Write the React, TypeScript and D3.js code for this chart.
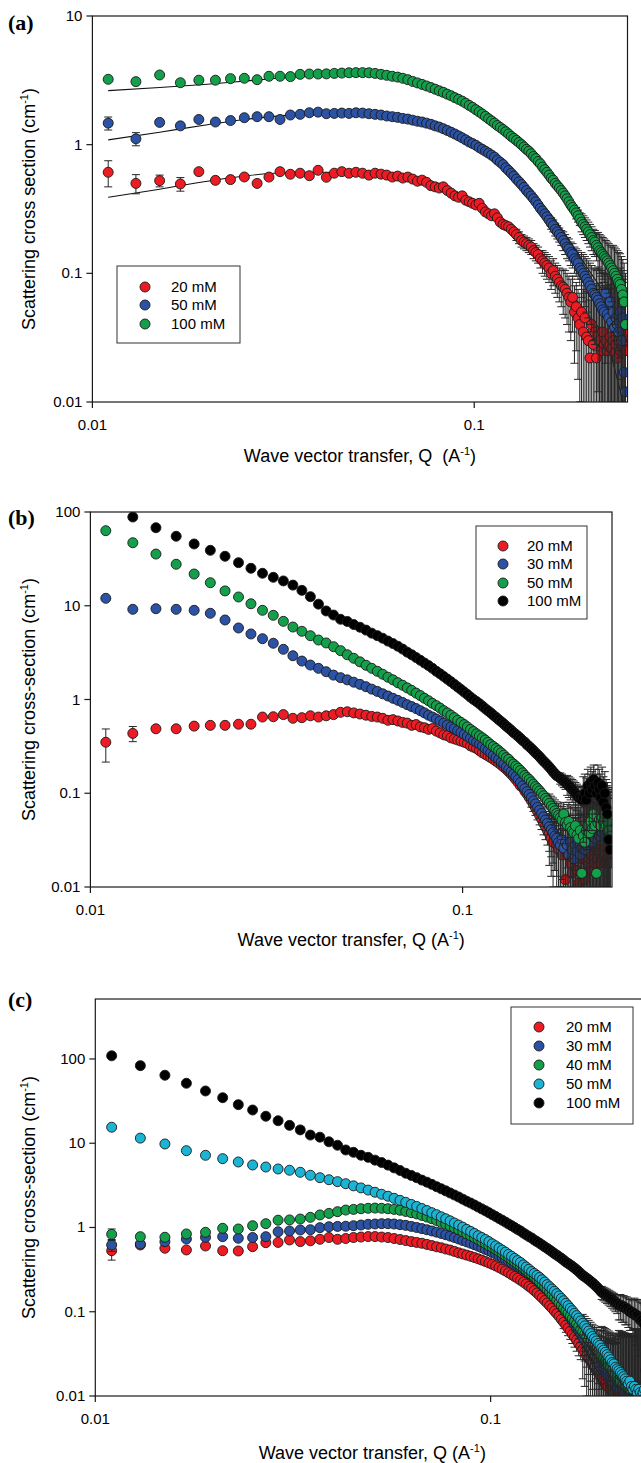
import React from "react";
import * as d3 from "d3";

// ---------- shared Q grid (Å^-1) ----------
const Q = [
  0.011, 0.013, 0.015, 0.017, 0.019, 0.021, 0.023, 0.025, 0.027, 0.029,
  0.031, 0.033, 0.035, 0.037, 0.039, 0.041, 0.043, 0.045, 0.047, 0.049,
  0.051, 0.053, 0.055, 0.057, 0.059, 0.061, 0.063, 0.065, 0.067, 0.069,
  0.071, 0.073, 0.075, 0.077, 0.079, 0.081, 0.083, 0.085, 0.087, 0.089,
  0.091, 0.093, 0.095, 0.097, 0.099, 0.101, 0.103, 0.105, 0.107, 0.109,
  0.111, 0.113, 0.115, 0.117, 0.119, 0.121, 0.123, 0.125, 0.127, 0.129,
  0.131, 0.133, 0.135, 0.137, 0.139, 0.141, 0.143, 0.145, 0.147, 0.149,
  0.151, 0.153, 0.155, 0.157, 0.159, 0.161, 0.163, 0.165, 0.167, 0.169,
  0.171, 0.173, 0.175, 0.177, 0.179, 0.181, 0.183, 0.185, 0.187, 0.189,
  0.191, 0.193, 0.195, 0.197, 0.199, 0.201, 0.203, 0.205, 0.207, 0.209,
  0.211, 0.213, 0.215, 0.217, 0.219, 0.221, 0.223, 0.225, 0.227, 0.229,
  0.231, 0.233, 0.235, 0.237, 0.239, 0.241, 0.243, 0.245, 0.247, 0.249,
];

// ---------- panel (a) ----------
const A_20 = [
  0.61, 0.50, 0.525, 0.495, 0.617, 0.528, 0.535, 0.561, 0.50, 0.56,
  0.617, 0.589, 0.60, 0.574, 0.632, 0.558, 0.60, 0.617, 0.60, 0.61,
  0.60, 0.58, 0.60, 0.59, 0.58, 0.56, 0.57, 0.55, 0.56, 0.54,
  0.52, 0.53, 0.51, 0.48, 0.47, 0.46, 0.47, 0.44, 0.42, 0.40,
  0.39, 0.40, 0.37, 0.36, 0.35, 0.34, 0.35, 0.32, 0.30, 0.29,
  0.28, 0.29, 0.27, 0.25, 0.24, 0.235, 0.23, 0.22, 0.21, 0.20,
  0.19, 0.18, 0.175, 0.17, 0.165, 0.16, 0.15, 0.145, 0.14, 0.13,
  0.125, 0.12, 0.115, 0.11, 0.10, 0.105, 0.095, 0.09, 0.085, 0.08,
  0.078, 0.075, 0.07, 0.065, 0.06, 0.065, 0.05, 0.055, 0.045, 0.04,
  0.05, 0.035, 0.045, 0.032, 0.03, 0.022, 0.04, 0.028, 0.035, 0.022,
  0.033, 0.03, 0.025, 0.035, 0.028, 0.03, 0.025, 0.027, 0.032, 0.026,
  0.03, 0.024, 0.028, 0.022, 0.03, 0.025, 0.027, 0.035, 0.03, 0.025,
];
const A_50 = [
  1.47, 1.11, 1.49, 1.40, 1.57, 1.50, 1.54, 1.62, 1.65, 1.65,
  1.57, 1.70, 1.72, 1.77, 1.79, 1.74, 1.75, 1.76, 1.75, 1.77,
  1.76, 1.74, 1.72, 1.70, 1.67, 1.65, 1.63, 1.60, 1.58, 1.55,
  1.52, 1.50, 1.47, 1.44, 1.40, 1.37, 1.33, 1.29, 1.25, 1.21,
  1.17, 1.13, 1.09, 1.05, 1.02, 0.99, 0.95, 0.92, 0.89, 0.86,
  0.83, 0.80, 0.76, 0.73, 0.70, 0.66, 0.63, 0.60, 0.57, 0.54,
  0.515, 0.49, 0.465, 0.44, 0.42, 0.40, 0.38, 0.36, 0.34, 0.32,
  0.305, 0.29, 0.275, 0.26, 0.245, 0.235, 0.22, 0.21, 0.20, 0.19,
  0.18, 0.17, 0.16, 0.155, 0.145, 0.14, 0.13, 0.125, 0.12, 0.11,
  0.105, 0.10, 0.095, 0.09, 0.085, 0.08, 0.075, 0.07, 0.068, 0.065,
  0.062, 0.058, 0.055, 0.052, 0.05, 0.07, 0.048, 0.045, 0.06, 0.042,
  0.05, 0.038, 0.045, 0.04, 0.035, 0.05, 0.03, 0.045, 0.017, 0.012,
];
const A_100 = [
  3.22, 3.09, 3.48, 3.03, 3.17, 3.17, 3.26, 3.28, 3.20, 3.40,
  3.40, 3.38, 3.52, 3.54, 3.54, 3.55, 3.58, 3.60, 3.62, 3.63,
  3.63, 3.62, 3.58, 3.52, 3.46, 3.40, 3.35, 3.28, 3.20, 3.10,
  3.02, 2.94, 2.86, 2.78, 2.70, 2.62, 2.55, 2.47, 2.40, 2.32,
  2.25, 2.18, 2.10, 2.02, 1.95, 1.87, 1.80, 1.73, 1.66, 1.59,
  1.53, 1.47, 1.41, 1.36, 1.31, 1.26, 1.21, 1.16, 1.12, 1.08,
  1.04, 1.00, 0.96, 0.92, 0.89, 0.85, 0.81, 0.78, 0.74, 0.71,
  0.67, 0.64, 0.61, 0.58, 0.55, 0.53, 0.50, 0.48, 0.46, 0.44,
  0.42, 0.40, 0.38, 0.36, 0.34, 0.325, 0.31, 0.295, 0.28, 0.265,
  0.25, 0.24, 0.23, 0.22, 0.21, 0.20, 0.19, 0.18, 0.175, 0.165,
  0.158, 0.15, 0.145, 0.14, 0.135, 0.13, 0.125, 0.12, 0.115, 0.11,
  0.105, 0.10, 0.095, 0.09, 0.085, 0.082, 0.075, 0.068, 0.06, 0.04,
];
const A_ERR = [
  0.01, 0.01, 0.01, 0.01, 0.01, 0.01, 0.01, 0.01, 0.01, 0.01,
  0.01, 0.01, 0.01, 0.01, 0.01, 0.01, 0.01, 0.01, 0.01, 0.01,
  0.01, 0.01, 0.01, 0.01, 0.01, 0.01, 0.01, 0.01, 0.01, 0.01,
  0.01, 0.01, 0.01, 0.01, 0.01, 0.01, 0.01, 0.01, 0.01, 0.01,
  0.015, 0.015, 0.015, 0.015, 0.015, 0.015, 0.015, 0.015, 0.015, 0.015,
  0.02, 0.02, 0.02, 0.02, 0.02, 0.02, 0.02, 0.02, 0.02, 0.02,
  0.02, 0.02, 0.02, 0.02, 0.02, 0.02, 0.02, 0.02, 0.02, 0.02,
  0.025, 0.025, 0.025, 0.025, 0.025, 0.025, 0.025, 0.025, 0.025, 0.025,
  0.03, 0.03, 0.03, 0.03, 0.03, 0.03, 0.03, 0.03, 0.03, 0.03,
  0.04, 0.04, 0.04, 0.04, 0.04, 0.04, 0.04, 0.04, 0.04, 0.04,
  0.05, 0.05, 0.05, 0.05, 0.05, 0.05, 0.05, 0.05, 0.05, 0.05,
  0.06, 0.06, 0.06, 0.06, 0.06, 0.06, 0.06, 0.06, 0.06, 0.06,
];
const A_LOWERR_20 = [0.14, 0.085, 0.055, 0.06, 0.06];
const A_LOWERR_50 = [0.17, 0.13, 0.1, 0.09, 0.09];
const A_LOWERR_100 = [0.2, 0.15, 0.12];

const FIT_Q = [0.011, 0.015, 0.02, 0.025, 0.03, 0.04, 0.05, 0.06, 0.07, 0.08, 0.09, 0.1, 0.12, 0.14, 0.16, 0.18, 0.2, 0.22, 0.24, 0.25];
const FIT_20 = [0.39, 0.45, 0.52, 0.57, 0.60, 0.61, 0.60, 0.57, 0.53, 0.48, 0.42, 0.36, 0.245, 0.16, 0.105, 0.07, 0.045, 0.032, 0.013, 0.008];
const FIT_50 = [1.09, 1.25, 1.43, 1.57, 1.66, 1.76, 1.77, 1.68, 1.53, 1.38, 1.2, 1.02, 0.70, 0.44, 0.28, 0.17, 0.105, 0.068, 0.04, 0.025];
const FIT_100 = [2.63, 2.78, 2.95, 3.12, 3.27, 3.45, 3.6, 3.45, 3.07, 2.66, 2.29, 1.92, 1.29, 0.86, 0.55, 0.36, 0.21, 0.13, 0.08, 0.06];

// ---------- panel (b) ----------
const B_20 = [
  0.35, 0.435, 0.487, 0.487, 0.52, 0.53, 0.53, 0.545, 0.545, 0.65,
  0.655, 0.69, 0.63, 0.64, 0.67, 0.65, 0.67, 0.69, 0.73, 0.74,
  0.72, 0.70, 0.68, 0.66, 0.65, 0.63, 0.60, 0.61, 0.59, 0.57,
  0.56, 0.53, 0.54, 0.51, 0.50, 0.48, 0.49, 0.46, 0.44, 0.42,
  0.41, 0.39, 0.38, 0.37, 0.36, 0.35, 0.34, 0.32, 0.31, 0.30,
  0.285, 0.27, 0.26, 0.25, 0.24, 0.23, 0.22, 0.21, 0.20, 0.19,
  0.18, 0.17, 0.16, 0.15, 0.14, 0.13, 0.12, 0.115, 0.105, 0.098,
  0.09, 0.083, 0.076, 0.07, 0.064, 0.058, 0.053, 0.048, 0.044, 0.04,
  0.037, 0.033, 0.03, 0.035, 0.028, 0.025, 0.03, 0.022, 0.026, 0.012,
  0.022, 0.028, 0.018, 0.014, 0.02, 0.025, 0.015, 0.011, 0.03, 0.02,
  0.014, 0.012, 0.025, 0.018, 0.02, 0.022, 0.015, 0.02, 0.018, 0.025,
  0.02, 0.025, 0.018, 0.02, 0.025, 0.022, 0.018, 0.02, 0.018, 0.018,
];
const B_30 = [
  12.0, 9.16, 9.30, 9.16, 8.94, 8.31, 7.05, 5.79, 5.0, 4.45,
  3.98, 3.43, 2.93, 2.57, 2.33, 2.15, 1.98, 1.82, 1.71, 1.62,
  1.53, 1.45, 1.37, 1.29, 1.22, 1.15, 1.09, 1.03, 0.98, 0.93,
  0.88, 0.84, 0.80, 0.76, 0.72, 0.68, 0.65, 0.62, 0.59, 0.56,
  0.535, 0.51, 0.49, 0.465, 0.445, 0.425, 0.405, 0.385, 0.365, 0.35,
  0.335, 0.32, 0.30, 0.285, 0.27, 0.255, 0.24, 0.23, 0.215, 0.205,
  0.19, 0.18, 0.17, 0.16, 0.15, 0.14, 0.13, 0.12, 0.112, 0.104,
  0.097, 0.09, 0.083, 0.077, 0.071, 0.066, 0.061, 0.056, 0.052, 0.048,
  0.044, 0.041, 0.038, 0.035, 0.033, 0.03, 0.028, 0.032, 0.026, 0.03,
  0.028, 0.022, 0.03, 0.025, 0.02, 0.028, 0.024, 0.03, 0.022, 0.026,
  0.03, 0.025, 0.028, 0.032, 0.03, 0.035, 0.03, 0.04, 0.033, 0.038,
  0.04, 0.035, 0.042, 0.038, 0.045, 0.04, 0.05, 0.04, 0.045, 0.04,
];
const B_50 = [
  63.2, 47.0, 35.6, 27.7, 21.8, 17.6, 14.4, 12.4, 10.5, 8.94,
  7.91, 6.82, 5.93, 5.34, 4.79, 4.31, 4.01, 3.66, 3.32, 3.0,
  2.75, 2.52, 2.32, 2.15, 2.0, 1.86, 1.73, 1.62, 1.51, 1.42,
  1.33, 1.25, 1.17, 1.10, 1.03, 0.97, 0.91, 0.86, 0.81, 0.76,
  0.72, 0.68, 0.64, 0.60, 0.57, 0.54, 0.51, 0.48, 0.455, 0.43,
  0.41, 0.39, 0.37, 0.35, 0.33, 0.315, 0.30, 0.285, 0.27, 0.255,
  0.24, 0.23, 0.215, 0.205, 0.195, 0.185, 0.175, 0.165, 0.155, 0.147,
  0.14, 0.132, 0.125, 0.118, 0.112, 0.106, 0.10, 0.094, 0.088, 0.083,
  0.078, 0.073, 0.069, 0.065, 0.061, 0.058, 0.055, 0.052, 0.06, 0.049,
  0.046, 0.05, 0.043, 0.04, 0.038, 0.045, 0.036, 0.033, 0.04, 0.014,
  0.035, 0.03, 0.04, 0.045, 0.038, 0.05, 0.042, 0.06, 0.045, 0.014,
  0.048, 0.052, 0.045, 0.055, 0.05, 0.06, 0.045, 0.05, 0.04, 0.035,
];
const B_100 = [
  null, 88.4, 68.0, 55.1, 45.6, 39.0, 33.7, 28.8, 25.1, 22.2,
  20.1, 18.4, 16.6, 14.6, 12.5, 10.4, 8.8, 7.96, 7.17, 6.8,
  6.3, 5.9, 5.5, 5.1, 4.8, 4.5, 4.2, 3.95, 3.7, 3.45,
  3.2, 3.0, 2.8, 2.62, 2.45, 2.3, 2.15, 2.0, 1.88, 1.76,
  1.65, 1.55, 1.45, 1.36, 1.28, 1.2, 1.13, 1.06, 1.0, 0.95,
  0.9, 0.85, 0.8, 0.76, 0.72, 0.68, 0.645, 0.61, 0.58, 0.55,
  0.52, 0.495, 0.47, 0.445, 0.425, 0.405, 0.385, 0.365, 0.35, 0.33,
  0.315, 0.30, 0.285, 0.27, 0.258, 0.245, 0.232, 0.22, 0.21, 0.2,
  0.19, 0.18, 0.17, 0.162, 0.154, 0.15, 0.145, 0.14, 0.135, 0.13,
  0.125, 0.12, 0.115, 0.11, 0.105, 0.1, 0.095, 0.09, 0.088, 0.085,
  0.09, 0.1, 0.085, 0.12, 0.1, 0.13, 0.11, 0.14, 0.12, 0.1,
  0.13, 0.11, 0.09, 0.12, 0.08, 0.1, 0.07, 0.06, 0.032, 0.025,
];
const B_ERR = [
  0.005, 0.005, 0.005, 0.005, 0.005, 0.005, 0.005, 0.005, 0.005, 0.005,
  0.005, 0.005, 0.005, 0.005, 0.005, 0.005, 0.005, 0.005, 0.005, 0.005,
  0.005, 0.005, 0.005, 0.005, 0.005, 0.005, 0.005, 0.005, 0.005, 0.005,
  0.005, 0.005, 0.005, 0.005, 0.005, 0.005, 0.005, 0.005, 0.005, 0.005,
  0.005, 0.005, 0.005, 0.005, 0.005, 0.005, 0.005, 0.005, 0.005, 0.005,
  0.005, 0.005, 0.005, 0.005, 0.005, 0.005, 0.005, 0.005, 0.005, 0.005,
  0.01, 0.01, 0.01, 0.01, 0.01, 0.01, 0.01, 0.01, 0.01, 0.01,
  0.012, 0.012, 0.012, 0.012, 0.012, 0.012, 0.012, 0.012, 0.012, 0.012,
  0.02, 0.02, 0.02, 0.02, 0.02, 0.02, 0.02, 0.02, 0.02, 0.02,
  0.03, 0.03, 0.03, 0.03, 0.03, 0.03, 0.03, 0.03, 0.03, 0.03,
  0.06, 0.06, 0.06, 0.06, 0.06, 0.06, 0.06, 0.06, 0.06, 0.06,
  0.07, 0.07, 0.07, 0.07, 0.07, 0.07, 0.07, 0.07, 0.07, 0.07,
];
const B_LOWERR_20 = [0.135, 0.08, 0.05, 0.04, 0.035];

// ---------- panel (c) ----------
const C_20 = [
  0.53, 0.62, 0.567, 0.541, 0.603, 0.53, 0.526, 0.592, 0.66, 0.665,
  0.711, 0.68, 0.695, 0.724, 0.76, 0.724, 0.74, 0.76, 0.77, 0.78,
  0.78, 0.77, 0.76, 0.74, 0.72, 0.70, 0.68, 0.665, 0.65, 0.63,
  0.61, 0.59, 0.575, 0.555, 0.54, 0.52, 0.50, 0.485, 0.47, 0.455,
  0.44, 0.425, 0.41, 0.395, 0.38, 0.365, 0.35, 0.335, 0.32, 0.305,
  0.29, 0.275, 0.262, 0.25, 0.237, 0.225, 0.213, 0.2, 0.19, 0.178,
  0.167, 0.156, 0.146, 0.136, 0.127, 0.118, 0.11, 0.102, 0.095, 0.088,
  0.081, 0.075, 0.069, 0.064, 0.059, 0.054, 0.05, 0.046, 0.042, 0.039,
  0.036, 0.033, 0.03, 0.028, 0.026, 0.024, 0.022, 0.02, 0.019, 0.018,
  0.016, 0.015, 0.014, 0.013, 0.015, 0.012, 0.014, 0.011, 0.013, 0.012,
  0.011, 0.013, 0.010, 0.012, 0.011, 0.013, 0.010, 0.012, 0.011, 0.010,
  0.012, 0.011, 0.010, 0.012, 0.011, 0.010, 0.011, 0.012, 0.010, 0.011,
];
const C_30 = [
  0.62, 0.637, 0.678, 0.73, 0.765, 0.778, 0.745, 0.76, 0.778, 0.89,
  0.909, 0.934, 0.94, 0.995, 1.02, 1.03, 1.035, 1.05, 1.07, 1.09,
  1.10, 1.11, 1.11, 1.10, 1.08, 1.06, 1.03, 1.0, 0.97, 0.94,
  0.91, 0.88, 0.85, 0.82, 0.79, 0.76, 0.73, 0.70, 0.675, 0.65,
  0.625, 0.60, 0.575, 0.55, 0.53, 0.505, 0.485, 0.46, 0.44, 0.42,
  0.40, 0.38, 0.36, 0.345, 0.328, 0.31, 0.295, 0.28, 0.265, 0.25,
  0.235, 0.22, 0.207, 0.194, 0.182, 0.17, 0.158, 0.147, 0.137, 0.127,
  0.117, 0.108, 0.1, 0.092, 0.085, 0.078, 0.071, 0.065, 0.06, 0.055,
  0.05, 0.046, 0.042, 0.038, 0.035, 0.032, 0.029, 0.027, 0.025, 0.023,
  0.021, 0.02, 0.019, 0.018, 0.017, 0.016, 0.015, 0.016, 0.014, 0.013,
  0.014, 0.012, 0.013, 0.012, 0.011, 0.013, 0.012, 0.011, 0.012, 0.011,
  0.012, 0.011, 0.013, 0.011, 0.012, 0.010, 0.011, 0.012, 0.011, 0.010,
];
const C_40 = [
  0.83, 0.778, 0.766, 0.838, 0.877, 0.978, 0.96, 1.05, 1.11, 1.22,
  1.23, 1.26, 1.32, 1.41, 1.47, 1.54, 1.61, 1.64, 1.67, 1.69,
  1.70, 1.69, 1.67, 1.64, 1.60, 1.55, 1.50, 1.45, 1.39, 1.33,
  1.27, 1.21, 1.15, 1.10, 1.04, 0.99, 0.94, 0.89, 0.84, 0.80,
  0.76, 0.72, 0.68, 0.645, 0.61, 0.58, 0.55, 0.52, 0.49, 0.465,
  0.44, 0.415, 0.39, 0.37, 0.35, 0.33, 0.31, 0.29, 0.275, 0.258,
  0.242, 0.226, 0.211, 0.197, 0.184, 0.171, 0.159, 0.148, 0.138, 0.128,
  0.119, 0.111, 0.103, 0.096, 0.089, 0.083, 0.077, 0.072, 0.067, 0.062,
  0.058, 0.054, 0.05, 0.047, 0.044, 0.041, 0.038, 0.036, 0.034, 0.032,
  0.03, 0.028, 0.026, 0.025, 0.023, 0.022, 0.02, 0.019, 0.018, 0.017,
  0.016, 0.015, 0.017, 0.014, 0.015, 0.013, 0.014, 0.012, 0.013, 0.012,
  0.013, 0.011, 0.012, 0.011, 0.012, 0.01, 0.011, 0.012, 0.01, 0.011,
];
const C_50 = [
  15.5, 11.5, 9.80, 8.16, 7.19, 6.56, 5.99, 5.52, 5.22, 4.95,
  4.78, 4.52, 4.17, 3.90, 3.69, 3.50, 3.31, 3.12, 2.95, 2.78,
  2.62, 2.48, 2.35, 2.22, 2.10, 1.99, 1.88, 1.78, 1.68, 1.59,
  1.50, 1.42, 1.34, 1.27, 1.20, 1.13, 1.07, 1.01, 0.95, 0.90,
  0.85, 0.80, 0.76, 0.72, 0.68, 0.64, 0.605, 0.57, 0.54, 0.51,
  0.48, 0.455, 0.43, 0.405, 0.385, 0.36, 0.34, 0.32, 0.30, 0.285,
  0.27, 0.255, 0.24, 0.225, 0.21, 0.198, 0.186, 0.175, 0.164, 0.154,
  0.144, 0.135, 0.126, 0.118, 0.11, 0.103, 0.096, 0.09, 0.084, 0.078,
  0.073, 0.068, 0.063, 0.059, 0.055, 0.051, 0.048, 0.045, 0.042, 0.04,
  0.037, 0.035, 0.033, 0.031, 0.029, 0.027, 0.025, 0.024, 0.022, 0.021,
  0.02, 0.019, 0.018, 0.017, 0.016, 0.015, 0.014, 0.015, 0.013, 0.012,
  0.013, 0.012, 0.011, 0.012, 0.011, 0.01, 0.011, 0.012, 0.01, 0.011,
];
const C_100 = [
  109, 83.3, 64.1, 51.5, 41.7, 34.7, 28.7, 24.8, 20.9, 18.5,
  16.3, 14.4, 12.5, 11.8, 10.4, 9.46, 8.32, 7.8, 7.2, 6.8,
  6.3, 5.9, 5.5, 5.1, 4.75, 4.4, 4.15, 3.9, 3.65, 3.45,
  3.25, 3.05, 2.88, 2.72, 2.57, 2.43, 2.3, 2.17, 2.05, 1.95,
  1.85, 1.75, 1.66, 1.58, 1.5, 1.42, 1.35, 1.28, 1.22, 1.16,
  1.1, 1.05, 1.0, 0.95, 0.91, 0.86, 0.82, 0.78, 0.75, 0.71,
  0.68, 0.65, 0.62, 0.59, 0.565, 0.54, 0.515, 0.49, 0.47, 0.45,
  0.43, 0.41, 0.39, 0.375, 0.36, 0.345, 0.33, 0.315, 0.3, 0.285,
  0.27, 0.26, 0.25, 0.24, 0.23, 0.22, 0.21, 0.2, 0.19, 0.18,
  0.17, 0.165, 0.16, 0.155, 0.15, 0.145, 0.14, 0.135, 0.13, 0.125,
  0.12, 0.12, 0.115, 0.115, 0.11, 0.11, 0.105, 0.1, 0.1, 0.095,
  0.095, 0.09, 0.09, 0.085, 0.08, 0.08, 0.075, 0.07, 0.02, 0.011,
];
const C_ERR = [
  0.005, 0.005, 0.005, 0.005, 0.005, 0.005, 0.005, 0.005, 0.005, 0.005,
  0.005, 0.005, 0.005, 0.005, 0.005, 0.005, 0.005, 0.005, 0.005, 0.005,
  0.005, 0.005, 0.005, 0.005, 0.005, 0.005, 0.005, 0.005, 0.005, 0.005,
  0.005, 0.005, 0.005, 0.005, 0.005, 0.005, 0.005, 0.005, 0.005, 0.005,
  0.005, 0.005, 0.005, 0.005, 0.005, 0.005, 0.005, 0.005, 0.005, 0.005,
  0.005, 0.005, 0.005, 0.005, 0.005, 0.005, 0.005, 0.005, 0.005, 0.005,
  0.008, 0.008, 0.008, 0.008, 0.008, 0.008, 0.008, 0.008, 0.008, 0.008,
  0.012, 0.012, 0.012, 0.012, 0.012, 0.012, 0.012, 0.012, 0.012, 0.012,
  0.02, 0.02, 0.02, 0.02, 0.02, 0.02, 0.02, 0.02, 0.02, 0.02,
  0.03, 0.03, 0.03, 0.03, 0.03, 0.03, 0.03, 0.03, 0.03, 0.03,
  0.04, 0.04, 0.04, 0.04, 0.04, 0.04, 0.04, 0.04, 0.04, 0.04,
  0.05, 0.05, 0.05, 0.05, 0.05, 0.05, 0.05, 0.05, 0.05, 0.05,
];
const C_LOWERR_20 = [0.12, 0.08, 0.07, 0.06, 0.05, 0.05, 0.05];
const C_LOWERR_30 = [0.1, 0.08, 0.07, 0.06, 0.05];
const C_LOWERR_40 = [0.13, 0.1, 0.08, 0.07, 0.06];

// ---------- styling ----------
const RED = "#ED1C24";
const BLUE = "#2C52A3";
const GREEN = "#14A04B";
const CYAN = "#1CB4D4";
const BLACK = "#000000";
const SANS = "'Liberation Sans', Arial, Helvetica, sans-serif";
const SERIF = "'Liberation Serif', 'Times New Roman', serif";
const AXIS = "#1a1a1a";

type Series = { label: string; color: string; values: (number | null)[]; lowErr: number[] };
type Fit = { values: number[] };

type PanelProps = {
  id: string;
  tag: string;
  tagY: number;
  xRange: [number, number];
  yDomain: [number, number];
  yRange: [number, number];
  yTicks: number[];
  series: Series[];
  errShared: number[];
  fits?: Fit[];
  legend: { x: number; y: number; w: number; h: number; rowY: number[]; mx: number; tx: number };
  yTitle: string;
  yTitleX: number;
  xTitle: string;
  xTitleY: number;
};

function fmt(v: number) {
  return v >= 1 ? String(v) : String(+v.toPrecision(1));
}

function Panel(p: PanelProps) {
  const x = d3.scaleLog().domain([0.01, 0.252]).range(p.xRange);
  const y = d3.scaleLog().domain(p.yDomain).range(p.yRange);
  const [L, R] = p.xRange;
  const [B, T] = p.yRange;
  const r = 5;
  const cap = 4;
  const line = d3
    .line<[number, number]>()
    .x((d) => x(d[0]))
    .y((d) => y(d[1]))
    .curve(d3.curveMonotoneX);
  const clip = `clip-${p.id}`;
  const xTicks = [0.01, 0.1];

  return (
    <g>
      <defs>
        <clipPath id={clip}>
          <rect x={L} y={T} width={R - L} height={B - T} />
        </clipPath>
      </defs>
      <text x={8} y={p.tagY} fontFamily={SERIF} fontWeight="bold" fontSize={22} fill="#000">
        {p.tag}
      </text>

      {/* fits */}
      <g clipPath={`url(#${clip})`}>
        {(p.fits || []).map((f, k) => (
          <path
            key={k}
            d={line(FIT_Q.map((q, i) => [q, f.values[i]] as [number, number])) || ""}
            fill="none"
            stroke="#111"
            strokeWidth={1.1}
          />
        ))}
      </g>

      {/* data */}
      <g clipPath={`url(#${clip})`}>
        {p.series.map((s, si) => (
          <g key={si}>
            {s.values.map((v, i) => {
              if (v == null) return null;
              const e = Math.max(p.errShared[i] || 0, s.lowErr[i] || 0);
              const cx = x(Q[i]);
              const yh = y(v + e);
              const lo = v - e;
              const yl = lo > 0 ? y(lo) : B + 20;
              if (yl - yh < 2 * r + 1) return null;
              return (
                <g key={i} stroke="#262626" strokeWidth={1}>
                  <line x1={cx} x2={cx} y1={yh} y2={yl} />
                  <line x1={cx - cap} x2={cx + cap} y1={yh} y2={yh} />
                  {lo > 0 && <line x1={cx - cap} x2={cx + cap} y1={yl} y2={yl} />}
                </g>
              );
            })}
            {s.values.map((v, i) =>
              v == null ? null : (
                <circle
                  key={`c${i}`}
                  cx={x(Q[i])}
                  cy={y(v)}
                  r={r}
                  fill={s.color}
                  stroke="#1a1a1a"
                  strokeWidth={0.9}
                />
              )
            )}
          </g>
        ))}
      </g>

      {/* frame */}
      <rect x={L} y={T} width={R - L} height={B - T} fill="none" stroke={AXIS} strokeWidth={1.2} />
      {p.yTicks.map((t) => (
        <g key={`y${t}`}>
          <line x1={L - 6} x2={L} y1={y(t)} y2={y(t)} stroke={AXIS} strokeWidth={1.2} />
          <text x={L - 10} y={y(t) + 5} textAnchor="end" fontFamily={SANS} fontSize={15} fill="#000">
            {fmt(t)}
          </text>
        </g>
      ))}
      {xTicks.map((t) => (
        <g key={`x${t}`}>
          <line x1={x(t)} x2={x(t)} y1={B} y2={B + 6} stroke={AXIS} strokeWidth={1.2} />
          <text x={x(t)} y={B + 28} textAnchor="middle" fontFamily={SANS} fontSize={15} fill="#000">
            {fmt(t)}
          </text>
        </g>
      ))}

      {/* axis titles */}
      <text
        x={(L + R) / 2}
        y={p.xTitleY}
        textAnchor="middle"
        fontFamily={SANS}
        fontSize={18}
        fill="#000"
      >
        {p.xTitle}
        <tspan dy={-7} fontSize={11}>-1</tspan>
        <tspan dy={7}>)</tspan>
      </text>
      <text
        transform={`translate(${p.yTitleX},${(T + B) / 2}) rotate(-90)`}
        textAnchor="middle"
        fontFamily={SANS}
        fontSize={18}
        fill="#000"
      >
        {p.yTitle}
        <tspan dy={-7} fontSize={11}>-1</tspan>
        <tspan dy={7}>)</tspan>
      </text>

      {/* legend */}
      <g>
        <rect
          x={p.legend.x}
          y={p.legend.y}
          width={p.legend.w}
          height={p.legend.h}
          fill="#fff"
          stroke="#333"
          strokeWidth={1}
        />
        {p.series.map((s, i) => (
          <g key={`l${i}`}>
            <circle cx={p.legend.mx} cy={p.legend.rowY[i]} r={r} fill={s.color} stroke="#1a1a1a" strokeWidth={0.9} />
            <text x={p.legend.tx} y={p.legend.rowY[i] + 5} fontFamily={SANS} fontSize={15} fill="#000">
              {s.label}
            </text>
          </g>
        ))}
      </g>
    </g>
  );
}

export default function App() {
  const seriesA: Series[] = [
    { label: "20 mM", color: RED, values: A_20, lowErr: A_LOWERR_20 },
    { label: "50 mM", color: BLUE, values: A_50, lowErr: A_LOWERR_50 },
    { label: "100 mM", color: GREEN, values: A_100, lowErr: A_LOWERR_100 },
  ];
  const seriesB: Series[] = [
    { label: "20 mM", color: RED, values: B_20, lowErr: B_LOWERR_20 },
    { label: "30 mM", color: BLUE, values: B_30, lowErr: [] },
    { label: "50 mM", color: GREEN, values: B_50, lowErr: [] },
    { label: "100 mM", color: BLACK, values: B_100, lowErr: [] },
  ];
  const seriesC: Series[] = [
    { label: "20 mM", color: RED, values: C_20, lowErr: C_LOWERR_20 },
    { label: "30 mM", color: BLUE, values: C_30, lowErr: C_LOWERR_30 },
    { label: "40 mM", color: GREEN, values: C_40, lowErr: C_LOWERR_40 },
    { label: "50 mM", color: CYAN, values: C_50, lowErr: [] },
    { label: "100 mM", color: BLACK, values: C_100, lowErr: [] },
  ];

  return (
    <svg
      width={641}
      height={1463}
      style={{ position: "absolute", left: 0, top: 0, background: "#fff" }}
    >
      <rect x={0} y={0} width={641} height={1463} fill="#fff" />
      <Panel
        id="a"
        tag="(a)"
        tagY={30}
        xRange={[92.4, 627.5]}
        yDomain={[0.01, 10]}
        yRange={[402, 16]}
        yTicks={[0.01, 0.1, 1, 10]}
        series={seriesA}
        errShared={A_ERR}
        fits={[{ values: FIT_20 }, { values: FIT_50 }, { values: FIT_100 }]}
        legend={{ x: 117, y: 266, w: 123, h: 77, rowY: [287, 305, 324], mx: 145, tx: 171 }}
        yTitle="Scattering cross section (cm"
        yTitleX={35}
        xTitle={"Wave vector transfer, Q \u00A0(A"}
        xTitleY={462}
      />
      <Panel
        id="b"
        tag="(b)"
        tagY={525}
        xRange={[90.4, 612]}
        yDomain={[0.01, 100]}
        yRange={[887, 512]}
        yTicks={[0.01, 0.1, 1, 10, 100]}
        series={seriesB}
        errShared={B_ERR}
        legend={{ x: 476, y: 526, w: 111, h: 93, rowY: [546, 564, 583, 601], mx: 503, tx: 527 }}
        yTitle="Scattering cross-section (cm"
        yTitleX={35}
        xTitle={"Wave vector transfer, Q (A"}
        xTitleY={946}
      />
      <Panel
        id="c"
        tag="(c)"
        tagY={1007}
        xRange={[95.3, 649.3]}
        yDomain={[0.01, 515]}
        yRange={[1396, 999]}
        yTicks={[0.01, 0.1, 1, 10, 100]}
        series={seriesC}
        errShared={C_ERR}
        legend={{ x: 511, y: 1007, w: 122, h: 117, rowY: [1027, 1046, 1065, 1084, 1103], mx: 539, tx: 566 }}
        yTitle="Scattering cross-section (cm"
        yTitleX={35}
        xTitle={"Wave vector transfer, Q (A"}
        xTitleY={1459}
      />
    </svg>
  );
}
